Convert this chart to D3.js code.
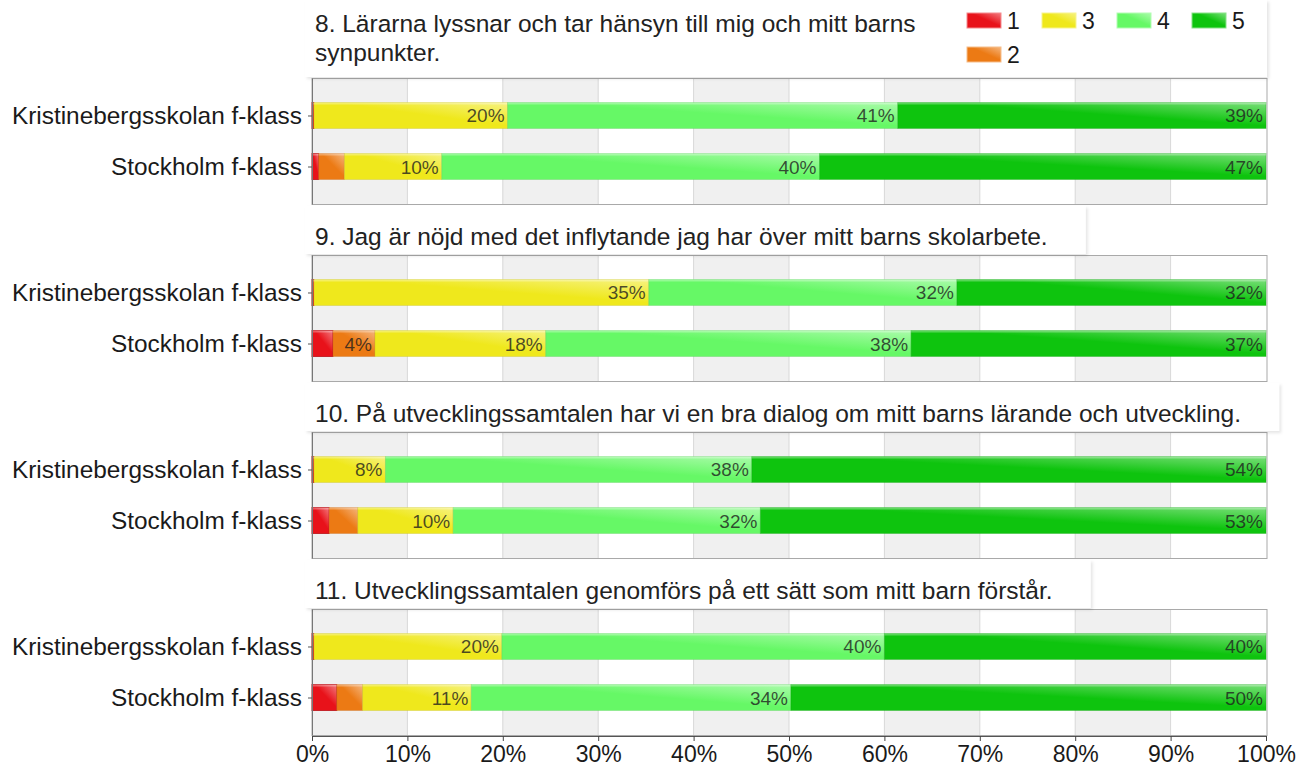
<!DOCTYPE html>
<html>
<head>
<meta charset="utf-8">
<script src="https://cdn.jsdelivr.net/npm/d3@7"></script>
<style>
  body { margin: 0; background: #fff; }
  svg { display: block; font-family: "Liberation Sans", Arial, sans-serif; }
</style>
</head>
<body>
<div class="container"></div>
<script>
(function(d3) {
  "use strict";

  var groups = ["Kristinebergsskolan f-klass", "Stockholm f-klass"];
  var answers = ["1", "2", "3", "4", "5"];
  var colors = ["#e8121a", "#ec7a14", "#efe81c", "#66f866", "#0ec40e"];

  var questions = [
    "8. Lärarna lyssnar och tar hänsyn till mig och mitt barns synpunkter.",
    "9. Jag är nöjd med det inflytande jag har över mitt barns skolarbete.",
    "10. På utvecklingssamtalen har vi en bra dialog om mitt barns lärande och utveckling.",
    "11. Utvecklingssamtalen genomförs på ett sätt som mitt barn förstår."
  ];

  // percent per answer 1..5, one row per group
  var q8 = [[0.2, 0, 20.3, 40.9, 38.6], [0.7, 2.7, 10.2, 39.6, 46.8]];
  var q9 = [[0.2, 0, 35.1, 32.3, 32.4], [2.2, 4.4, 17.9, 38.3, 37.2]];
  var q10 = [[0.2, 0, 7.5, 38.4, 53.9], [1.8, 3.0, 10.0, 32.2, 53.0]];
  var q11 = [[0.2, 0, 19.7, 40.1, 40.0], [2.6, 2.7, 11.4, 33.5, 49.8]];

  var xTicks = [0, 10, 20, 30, 40, 50, 60, 70, 80, 90, 100];
  var legendRows = [["1", "3", "4", "5"], ["2"]];

  var plotLeft = 312, plotRight = 1266;
  var firstTop = 78, panelStep = 177, plotHeight = 126, barHeight = 26;

  var x = d3.scaleLinear().domain([0, 100]).range([plotLeft, plotRight]);

  main();

  function main() {
    var svg = d3.select(".container").append("svg")
        .attr("width", 1300)
        .attr("height", 767);

    var defs = svg.append("defs");
    makeGradients(defs);

    var shadow = defs.append("filter")
        .attr("id", "boxShadow")
        .attr("x", "-5%").attr("y", "-20%")
        .attr("width", "110%").attr("height", "150%");
    shadow.append("feDropShadow")
        .attr("dx", 2).attr("dy", 2)
        .attr("stdDeviation", 1.5)
        .attr("flood-color", "#000")
        .attr("flood-opacity", 0.1);

    var panels = [q8, q9, q10, q11].map(function(rows, i) {
      return { title: questions[i], rows: rows, index: i };
    });

    panels.forEach(function(p) {
      var top = firstTop + p.index * panelStep;
      var g = svg.append("g")
          .attr("class", "panel")
          .attr("transform", svgTranslateString(0, top));
      drawTitle(svg, p, top);
      drawPlot(g, p, p.index === panels.length - 1);
    });

    drawLegend(svg);
  }

  function makeGradients(defs) {
    colors.forEach(function(c, i) {
      var light = d3.interpolateRgb(c, "#ffffff")(0.45);
      var grad = defs.append("linearGradient")
          .attr("id", "grad" + i)
          .attr("x1", 0).attr("y1", 1)
          .attr("x2", 1).attr("y2", 0);
      grad.append("stop").attr("offset", "0%").attr("stop-color", c);
      grad.append("stop").attr("offset", "55%").attr("stop-color", c);
      grad.append("stop").attr("offset", "100%").attr("stop-color", light);
    });
  }

  function drawTitle(svg, p, top) {
    var isFirst = p.index === 0;
    var maxWidth = isFirst ? 630 : 950;
    var boxTop = isFirst ? 0 : top - panelStep + plotHeight + 2;

    var box = svg.append("rect")
        .attr("class", "title-box")
        .attr("fill", "#fff")
        .attr("filter", "url(#boxShadow)");

    var text = svg.append("text")
        .attr("class", "title")
        .attr("x", 315)
        .style("font-size", "24.5px")
        .attr("fill", "#222");

    // wrap words
    var words = p.title.split(" ");
    var lines = [];
    var line = [];
    var probe = text.append("tspan");
    words.forEach(function(w) {
      line.push(w);
      probe.text(line.join(" "));
      if (probe.node().getComputedTextLength() > maxWidth && line.length > 1) {
        line.pop();
        lines.push(line.join(" "));
        line = [w];
      }
    });
    lines.push(line.join(" "));
    probe.remove();

    var lastBase = top - (lines.length > 1 ? 17 : 10);
    text.selectAll("tspan")
        .data(lines)
      .enter().append("tspan")
        .attr("x", 315)
        .attr("y", function(d, i) { return lastBase - (lines.length - 1 - i) * 29; })
        .text(function(d) { return d; });

    var textRight = 315 + d3.max(text.selectAll("tspan").nodes(), function(n) {
      return n.getComputedTextLength();
    });
    var boxRight = isFirst ? plotRight + 1 : textRight + 38;

    box.attr("x", 305)
        .attr("y", boxTop)
        .attr("width", boxRight - 305)
        .attr("height", top - boxTop - 1);
  }

  function drawPlot(g, p, withAxis) {
    var y = d3.scalePoint()
        .domain(groups)
        .range([0, plotHeight])
        .padding(0.735);

    // alternating bands
    g.append("g").attr("class", "bands")
      .selectAll("rect")
        .data(xTicks.slice(0, -1).filter(function(d, i) { return i % 2 === 0; }))
      .enter().append("rect")
        .attr("x", function(d) { return x(d); })
        .attr("y", 0)
        .attr("width", function(d) { return x(d + 10) - x(d); })
        .attr("height", plotHeight)
        .attr("fill", "#f0f0f0");

    g.append("g").attr("class", "grid")
      .selectAll("line")
        .data(xTicks.slice(1, -1))
      .enter().append("line")
        .attr("x1", function(d) { return x(d); })
        .attr("x2", function(d) { return x(d); })
        .attr("y1", 0)
        .attr("y2", plotHeight)
        .attr("stroke", "#d8d8d8");

    g.append("rect")
        .attr("x", plotLeft)
        .attr("y", 0.5)
        .attr("width", plotRight - plotLeft + 1)
        .attr("height", plotHeight)
        .attr("fill", "none")
        .attr("stroke", "#a9a9a9");

    var stack = d3.stack()
        .keys(d3.range(answers.length))
        .value(function(d, k) { return d[k]; });

    var series = stack(p.rows);

    var layer = g.append("g").attr("class", "bars")
      .selectAll(".series")
        .data(series)
      .enter().append("g")
        .attr("class", "series");

    layer.selectAll("rect")
        .data(function(s) {
          return s.map(function(d, i) {
            return { key: s.key, group: groups[i], x0: d[0], x1: d[1] };
          }).filter(function(d) { return d.x1 > d.x0; });
        })
      .enter().append("rect")
        .attr("x", function(d) { return x(d.x0); })
        .attr("y", function(d) { return y(d.group) - barHeight / 2; })
        .attr("width", function(d) { return x(d.x1) - x(d.x0); })
        .attr("height", barHeight)
        .attr("fill", function(d) { return "url(#grad" + d.key + ")"; })
        .attr("stroke", function(d) { return d3.color(colors[d.key]).darker(0.6); })
        .attr("stroke-opacity", function(d) { return d.key === 0 ? 0.8 : 0.3; })
        .attr("stroke-width", 1);

    // top highlight
    layer.selectAll(".shine")
        .data(function(s) {
          return s.map(function(d, i) {
            return { group: groups[i], x0: d[0], x1: d[1] };
          });
        })
      .enter().append("rect")
        .attr("class", "shine")
        .attr("x", function(d) { return x(d.x0); })
        .attr("y", function(d) { return y(d.group) - barHeight / 2; })
        .attr("width", function(d) { return Math.max(0, x(d.x1) - x(d.x0)); })
        .attr("height", 2)
        .attr("fill", "#fff")
        .attr("opacity", 0.3);

    layer.selectAll(".value")
        .data(function(s) {
          return s.map(function(d, i) {
            return { group: groups[i], x1: d[1], v: d[1] - d[0] };
          }).filter(function(d) { return d.v >= 4; });
        })
      .enter().append("text")
        .attr("class", "value")
        .attr("x", function(d) { return x(d.x1) - 3; })
        .attr("y", function(d) { return y(d.group) + 7; })
        .attr("text-anchor", "end")
        .style("font-size", "19px")
        .attr("fill", "#1e1e1e")
        .attr("fill-opacity", 0.8)
        .text(function(d) { return Math.round(d.v) + "%"; });

    var yAxis = g.append("g")
        .attr("class", "y-axis")
        .attr("transform", svgTranslateString(plotLeft, 0))
        .call(d3.axisLeft(y).tickSize(4).tickPadding(6).tickSizeOuter(0));
    yAxis.select(".domain").attr("stroke", "#777");
    yAxis.selectAll(".tick line").attr("stroke", "#555");
    yAxis.selectAll("text")
        .style("font-size", "24.4px")
        .style("font-family", "Liberation Sans, Arial, sans-serif")
        .attr("fill", "#1a1a1a");

    if (withAxis) {
      var xAxis = g.append("g")
          .attr("class", "x-axis")
          .attr("transform", svgTranslateString(0, plotHeight + 1))
          .call(d3.axisBottom(x)
            .tickValues(xTicks)
            .tickFormat(function(d) { return d + "%"; })
            .tickSize(5)
            .tickPadding(5)
            .tickSizeOuter(0));
      xAxis.select(".domain").attr("stroke", "#555");
      xAxis.selectAll(".tick line").attr("stroke", "#444");
      xAxis.selectAll("text")
          .style("font-size", "23px")
          .style("font-family", "Liberation Sans, Arial, sans-serif")
          .attr("fill", "#1a1a1a");
    }
  }

  function drawLegend(svg) {
    var legend = svg.append("g")
        .attr("class", "legend")
        .attr("transform", svgTranslateString(967, 13));

    legendRows.forEach(function(row, r) {
      var item = legend.selectAll(".row" + r)
          .data(row)
        .enter().append("g")
          .attr("class", "row" + r)
          .attr("transform", function(d, i) {
            return svgTranslateString(i * 75, r * 34);
          });

      item.append("rect")
          .attr("width", 34)
          .attr("height", 15)
          .attr("fill", function(d) { return "url(#grad" + answers.indexOf(d) + ")"; })
          .attr("stroke", function(d) { return d3.interpolateRgb(colors[answers.indexOf(d)], "#fff")(0.5); })
          .attr("stroke-width", 1);

      item.append("text")
          .attr("x", 40)
          .attr("y", 16)
          .style("font-size", "23px")
          .attr("fill", "#1a1a1a")
          .text(function(d) { return d; });
    });
  }

  function svgTranslateString(x, y) {
    return "translate(" + x + "," + y + ")";
  }

}(d3));
</script>
</body>
</html>
